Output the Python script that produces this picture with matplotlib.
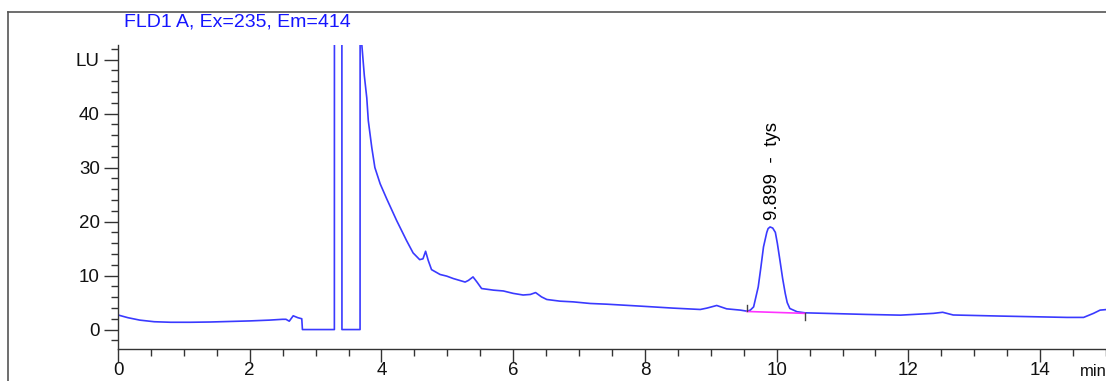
import matplotlib
matplotlib.use("Agg")
import matplotlib.pyplot as plt
from matplotlib.lines import Line2D

plt.rcParams['font.family'] = ['Liberation Sans', 'DejaVu Sans']

# Chromatogram trace (time in min, signal in LU)
time_min = [0.00, 0.15, 0.33, 0.55, 0.80, 1.10, 1.40, 1.70, 2.00, 2.30, 2.50, 2.55,
            2.60, 2.66, 2.73, 2.79, 2.80, 3.285, 3.29, 3.395, 3.40, 3.675, 3.68,
            3.70, 3.74, 3.777, 3.80, 3.853, 3.90, 3.98, 4.08, 4.23, 4.38, 4.48,
            4.58, 4.63, 4.67, 4.71, 4.76, 4.89, 4.99, 5.09, 5.27, 5.32, 5.39,
            5.45, 5.52, 5.70, 5.85, 6.00, 6.15, 6.26, 6.34, 6.43, 6.51, 6.71,
            6.91, 7.17, 7.42, 7.93, 8.43, 8.84, 8.94, 9.09, 9.24, 9.45, 9.55,
            9.60, 9.65, 9.72, 9.76, 9.80, 9.85, 9.87, 9.90, 9.94, 9.98, 10.01,
            10.05, 10.09, 10.13, 10.16, 10.20, 10.31, 10.43, 10.90, 11.37,
            11.88, 12.38, 12.52, 12.68, 13.39, 14.00, 14.41, 14.66, 14.81,
            14.91, 15.00]
signal_lu = [2.7, 2.2, 1.75, 1.45, 1.35, 1.35, 1.4, 1.5, 1.6, 1.75, 1.9, 1.9,
             1.55, 2.55, 2.2, 2.0, 0.0, 0.0, 300.0, 300.0, 0.0, 0.0, 300.0,
             53.0, 47.0, 42.9, 38.7, 33.7, 30.0, 27.0, 24.2, 20.2, 16.5, 14.2,
             12.95, 13.1, 14.5, 12.8, 11.1, 10.2, 9.9, 9.45, 8.8, 9.1, 9.75,
             8.8, 7.6, 7.3, 7.15, 6.7, 6.4, 6.5, 6.85, 6.05, 5.57, 5.26,
             5.13, 4.83, 4.7, 4.34, 3.97, 3.72, 3.97, 4.46, 3.84, 3.6, 3.4,
             3.6, 4.2, 7.9, 11.5, 15.3, 18.0, 18.7, 19.0, 18.8, 18.0, 16.0,
             12.8, 9.5, 6.7, 5.0, 3.9, 3.3, 3.1, 2.95, 2.8,
             2.67, 3.0, 3.2, 2.7, 2.5, 2.35, 2.25, 2.25, 3.0,
             3.6, 3.7]

# Integration baseline of the labelled peak
baseline_t = [9.55, 10.43]
baseline_v = [3.35, 3.0]

peak_label = "9.899  -  tys"
peak_label_pos = (9.93, 20.3)

title = "FLD1 A, Ex=235, Em=414"
ytick_vals = [0, 10, 20, 30, 40, 50]
ytick_labels = ["0", "10", "20", "30", "40", "LU"]
xtick_vals = [0, 2, 4, 6, 8, 10, 12, 14]

W, H = 1106, 381
fig = plt.figure(figsize=(W / 100, H / 100), dpi=100)
ax = fig.add_axes([118 / W, (H - 349) / H, 1 - 118 / W, (349 - 45) / H])

ax.plot(time_min, signal_lu, color='#3a3aff', lw=1.2, solid_joinstyle='round')
ax.plot(baseline_t, baseline_v, color='#ff33ff', lw=1.2)
# integration event ticks
ax.plot([baseline_t[0]] * 2, [baseline_v[0], baseline_v[0] + 1.2], color='#444444', lw=1.0)
ax.plot([baseline_t[1]] * 2, [baseline_v[1], baseline_v[1] - 1.3], color='#444444', lw=1.0)

ax.text(peak_label_pos[0], peak_label_pos[1], peak_label, rotation=90,
        ha='center', va='bottom', fontsize=13.5, color='black')

ax.set_xlim(0, 15.0)
ax.set_ylim(-3.6, 52.7)
ax.set_xticks(xtick_vals)
ax.set_xticks([v * 0.5 for v in range(0, 31)], minor=True)
ax.set_yticks(ytick_vals)
ax.set_yticklabels(ytick_labels)
ax.set_yticks(list(range(-2, 53, 2)), minor=True)

for s in ['top', 'right']:
    ax.spines[s].set_visible(False)
for s in ['left', 'bottom']:
    ax.spines[s].set_color('#333333')
    ax.spines[s].set_linewidth(1.0)

ax.tick_params(axis='y', which='major', direction='out', length=10, width=1.0,
               color='#333333', labelsize=13.5, labelcolor='#111111', pad=3)
ax.tick_params(axis='x', which='major', direction='out', length=9, width=1.0,
               color='#333333', labelsize=13.5, labelcolor='#111111', pad=0.5)
ax.tick_params(axis='both', which='minor', direction='out', length=5, width=1.0,
               color='#333333')

# "min" unit label at the end of the x axis (cut by the right edge, as in the source)
ax.text(14.6, -0.075, "min", transform=ax.get_xaxis_transform(), fontsize=12,
        ha='left', va='center', color='#111111', clip_on=False)

# title and outer frame
fig.text(124 / W, 1 - 22 / H, title, color='#1515ff', fontsize=14, ha='left', va='center')
fig.add_artist(Line2D([8 / W, 8 / W], [0, 1 - 12 / H], transform=fig.transFigure,
                      color='#555555', lw=1.2))
fig.add_artist(Line2D([8 / W, 1], [1 - 12 / H, 1 - 12 / H], transform=fig.transFigure,
                      color='#555555', lw=1.2))

fig.savefig("out.png", dpi=100)
